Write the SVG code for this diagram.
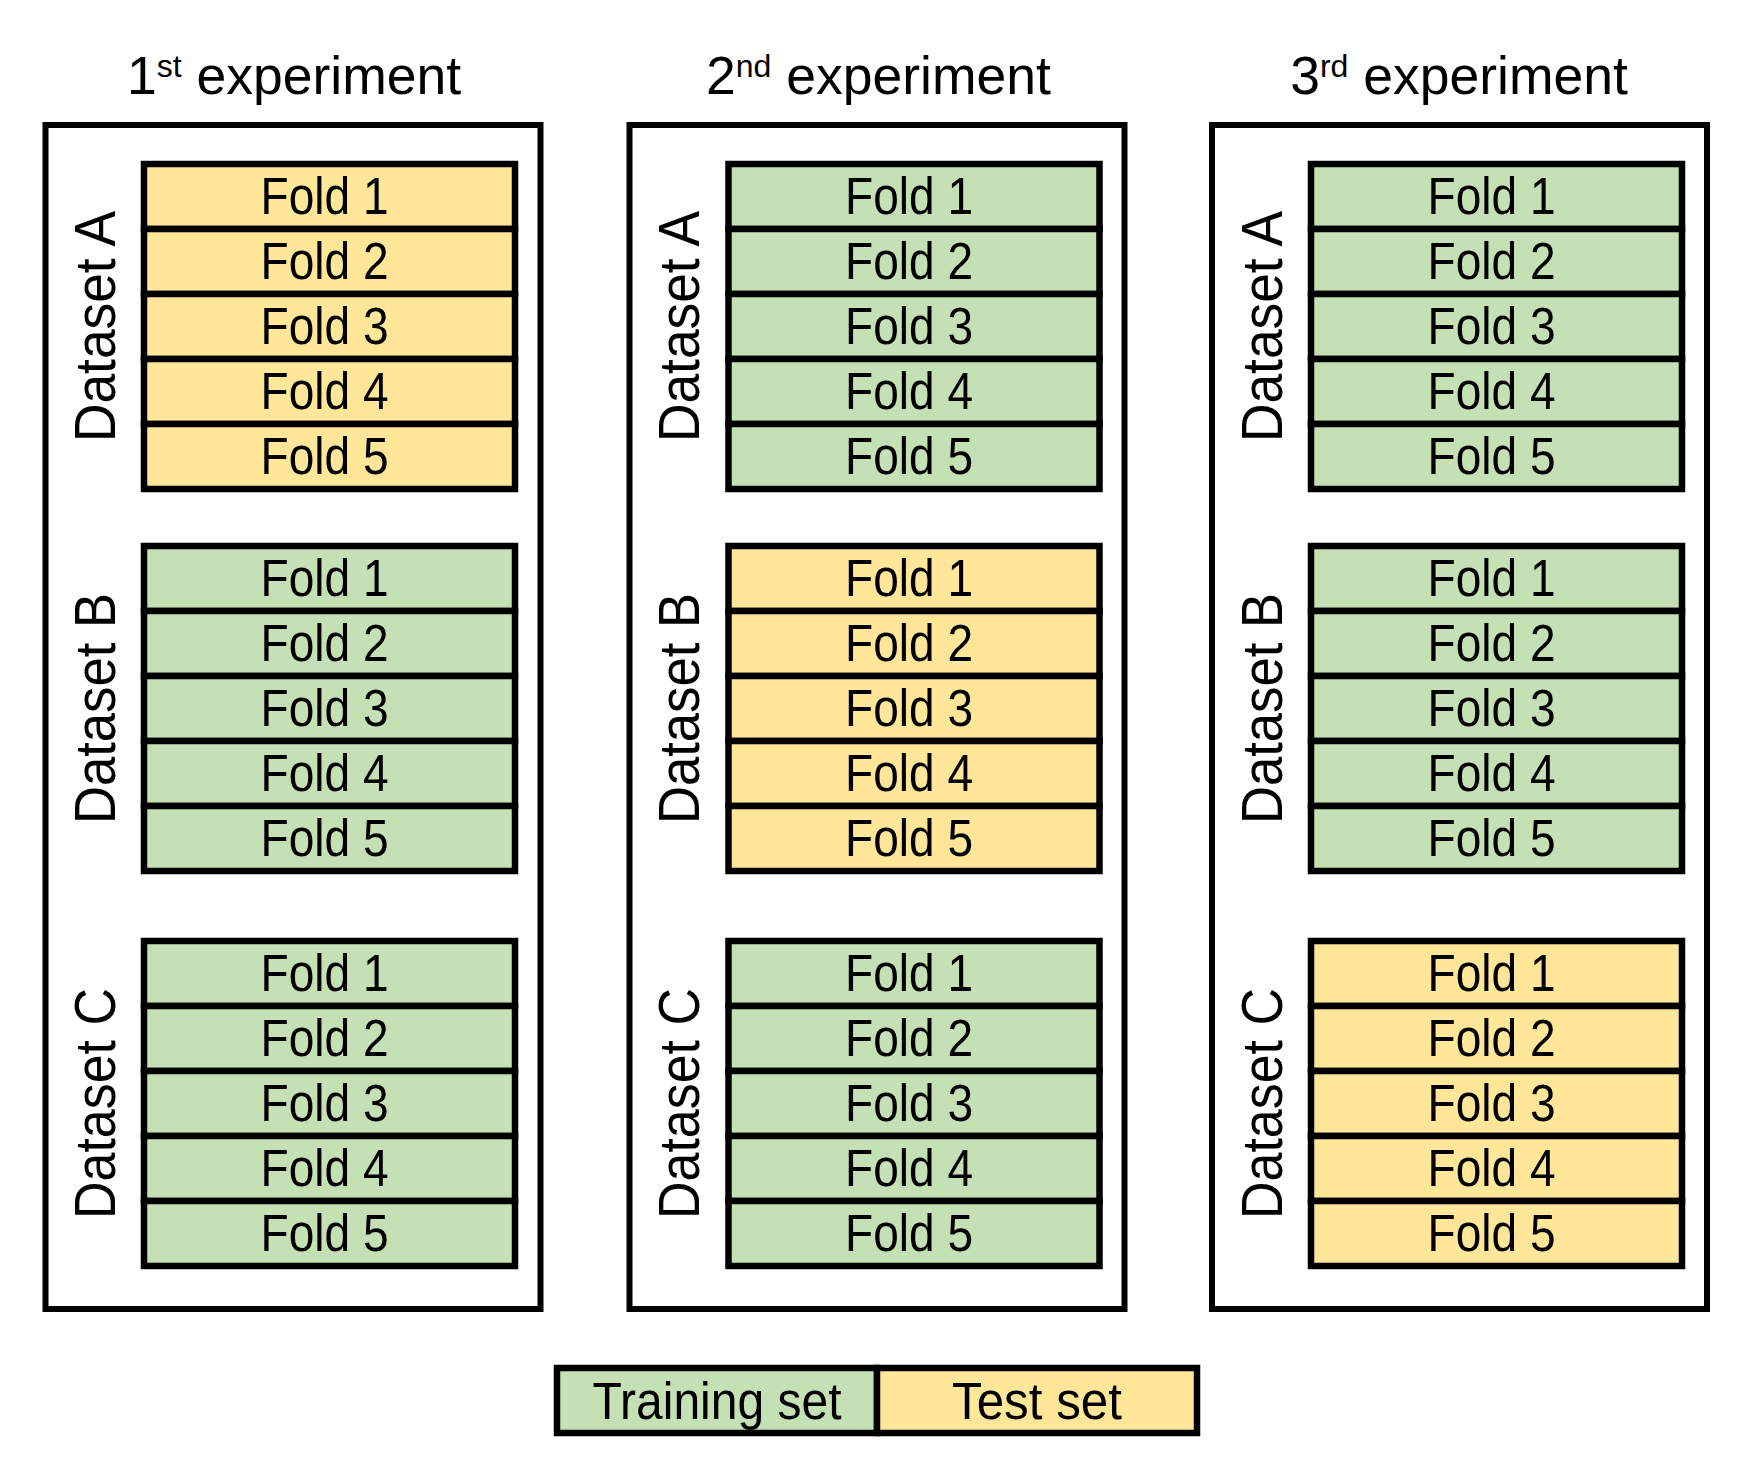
<svg xmlns="http://www.w3.org/2000/svg" width="1760" height="1468" viewBox="0 0 1760 1468">
<style>
.frame{fill:#fff;stroke:#000;stroke-width:6}
.tr{fill:#C5E0B4;stroke:#000;stroke-width:6.5}
.te{fill:#FFE699;stroke:#000;stroke-width:6.5}
.fold{font-family:"Liberation Sans",Arial,sans-serif;font-size:51px;text-anchor:middle;fill:#000}
.title{font-family:"Liberation Sans",Arial,sans-serif;font-size:53.5px;text-anchor:middle;fill:#000}
.sup{font-size:32px}
.ds{font-family:"Liberation Sans",Arial,sans-serif;font-size:57px;text-anchor:middle;fill:#000}
</style>
<defs>
<g id="stackTr">
<rect class="tr" x="0" y="0" width="371" height="65"/>
<rect class="tr" x="0" y="65" width="371" height="65"/>
<rect class="tr" x="0" y="130" width="371" height="65"/>
<rect class="tr" x="0" y="195" width="371" height="65"/>
<rect class="tr" x="0" y="260" width="371" height="65"/>
<text class="fold" x="180.5" y="50" textLength="128" lengthAdjust="spacingAndGlyphs">Fold 1</text>
<text class="fold" x="180.5" y="115" textLength="128" lengthAdjust="spacingAndGlyphs">Fold 2</text>
<text class="fold" x="180.5" y="180" textLength="128" lengthAdjust="spacingAndGlyphs">Fold 3</text>
<text class="fold" x="180.5" y="245" textLength="128" lengthAdjust="spacingAndGlyphs">Fold 4</text>
<text class="fold" x="180.5" y="310" textLength="128" lengthAdjust="spacingAndGlyphs">Fold 5</text>
</g>
<g id="stackTe">
<rect class="te" x="0" y="0" width="371" height="65"/>
<rect class="te" x="0" y="65" width="371" height="65"/>
<rect class="te" x="0" y="130" width="371" height="65"/>
<rect class="te" x="0" y="195" width="371" height="65"/>
<rect class="te" x="0" y="260" width="371" height="65"/>
<text class="fold" x="180.5" y="50" textLength="128" lengthAdjust="spacingAndGlyphs">Fold 1</text>
<text class="fold" x="180.5" y="115" textLength="128" lengthAdjust="spacingAndGlyphs">Fold 2</text>
<text class="fold" x="180.5" y="180" textLength="128" lengthAdjust="spacingAndGlyphs">Fold 3</text>
<text class="fold" x="180.5" y="245" textLength="128" lengthAdjust="spacingAndGlyphs">Fold 4</text>
<text class="fold" x="180.5" y="310" textLength="128" lengthAdjust="spacingAndGlyphs">Fold 5</text>
</g>
</defs>
<g id="exp1">
<text class="title" x="294" y="94">1<tspan class="sup" dy="-17">st</tspan><tspan dy="17"> experiment</tspan></text>
<rect class="frame" x="45.5" y="125" width="495" height="1184"/>
<g id="exp1-A"><text class="ds" transform="translate(114.7,326.5) rotate(-90)" textLength="231" lengthAdjust="spacingAndGlyphs">Dataset A</text><use href="#stackTe" x="144" y="164"/></g>
<g id="exp1-B"><text class="ds" transform="translate(114.7,708.5) rotate(-90)" textLength="231" lengthAdjust="spacingAndGlyphs">Dataset B</text><use href="#stackTr" x="144" y="546"/></g>
<g id="exp1-C"><text class="ds" transform="translate(114.7,1103.5) rotate(-90)" textLength="231" lengthAdjust="spacingAndGlyphs">Dataset C</text><use href="#stackTr" x="144" y="941"/></g>
</g>
<g id="exp2">
<text class="title" x="878.5" y="94">2<tspan class="sup" dy="-17">nd</tspan><tspan dy="17"> experiment</tspan></text>
<rect class="frame" x="629.5" y="125" width="495" height="1184"/>
<g id="exp2-A"><text class="ds" transform="translate(699.4,326.5) rotate(-90)" textLength="231" lengthAdjust="spacingAndGlyphs">Dataset A</text><use href="#stackTr" x="728.5" y="164"/></g>
<g id="exp2-B"><text class="ds" transform="translate(699.4,708.5) rotate(-90)" textLength="231" lengthAdjust="spacingAndGlyphs">Dataset B</text><use href="#stackTe" x="728.5" y="546"/></g>
<g id="exp2-C"><text class="ds" transform="translate(699.4,1103.5) rotate(-90)" textLength="231" lengthAdjust="spacingAndGlyphs">Dataset C</text><use href="#stackTr" x="728.5" y="941"/></g>
</g>
<g id="exp3">
<text class="title" x="1459" y="94">3<tspan class="sup" dy="-17">rd</tspan><tspan dy="17"> experiment</tspan></text>
<rect class="frame" x="1212" y="125" width="495" height="1184"/>
<g id="exp3-A"><text class="ds" transform="translate(1281.8,326.5) rotate(-90)" textLength="231" lengthAdjust="spacingAndGlyphs">Dataset A</text><use href="#stackTr" x="1311" y="164"/></g>
<g id="exp3-B"><text class="ds" transform="translate(1281.8,708.5) rotate(-90)" textLength="231" lengthAdjust="spacingAndGlyphs">Dataset B</text><use href="#stackTr" x="1311" y="546"/></g>
<g id="exp3-C"><text class="ds" transform="translate(1281.8,1103.5) rotate(-90)" textLength="231" lengthAdjust="spacingAndGlyphs">Dataset C</text><use href="#stackTe" x="1311" y="941"/></g>
</g>
<g id="legend">
<rect class="tr" x="557" y="1368" width="320" height="65"/>
<rect class="te" x="877" y="1368" width="320" height="65"/>
<text class="fold" x="717" y="1419" textLength="249" lengthAdjust="spacingAndGlyphs">Training set</text>
<text class="fold" x="1037" y="1419" textLength="170" lengthAdjust="spacingAndGlyphs">Test set</text>
</g>
<g id="connectors"/>
</svg>
